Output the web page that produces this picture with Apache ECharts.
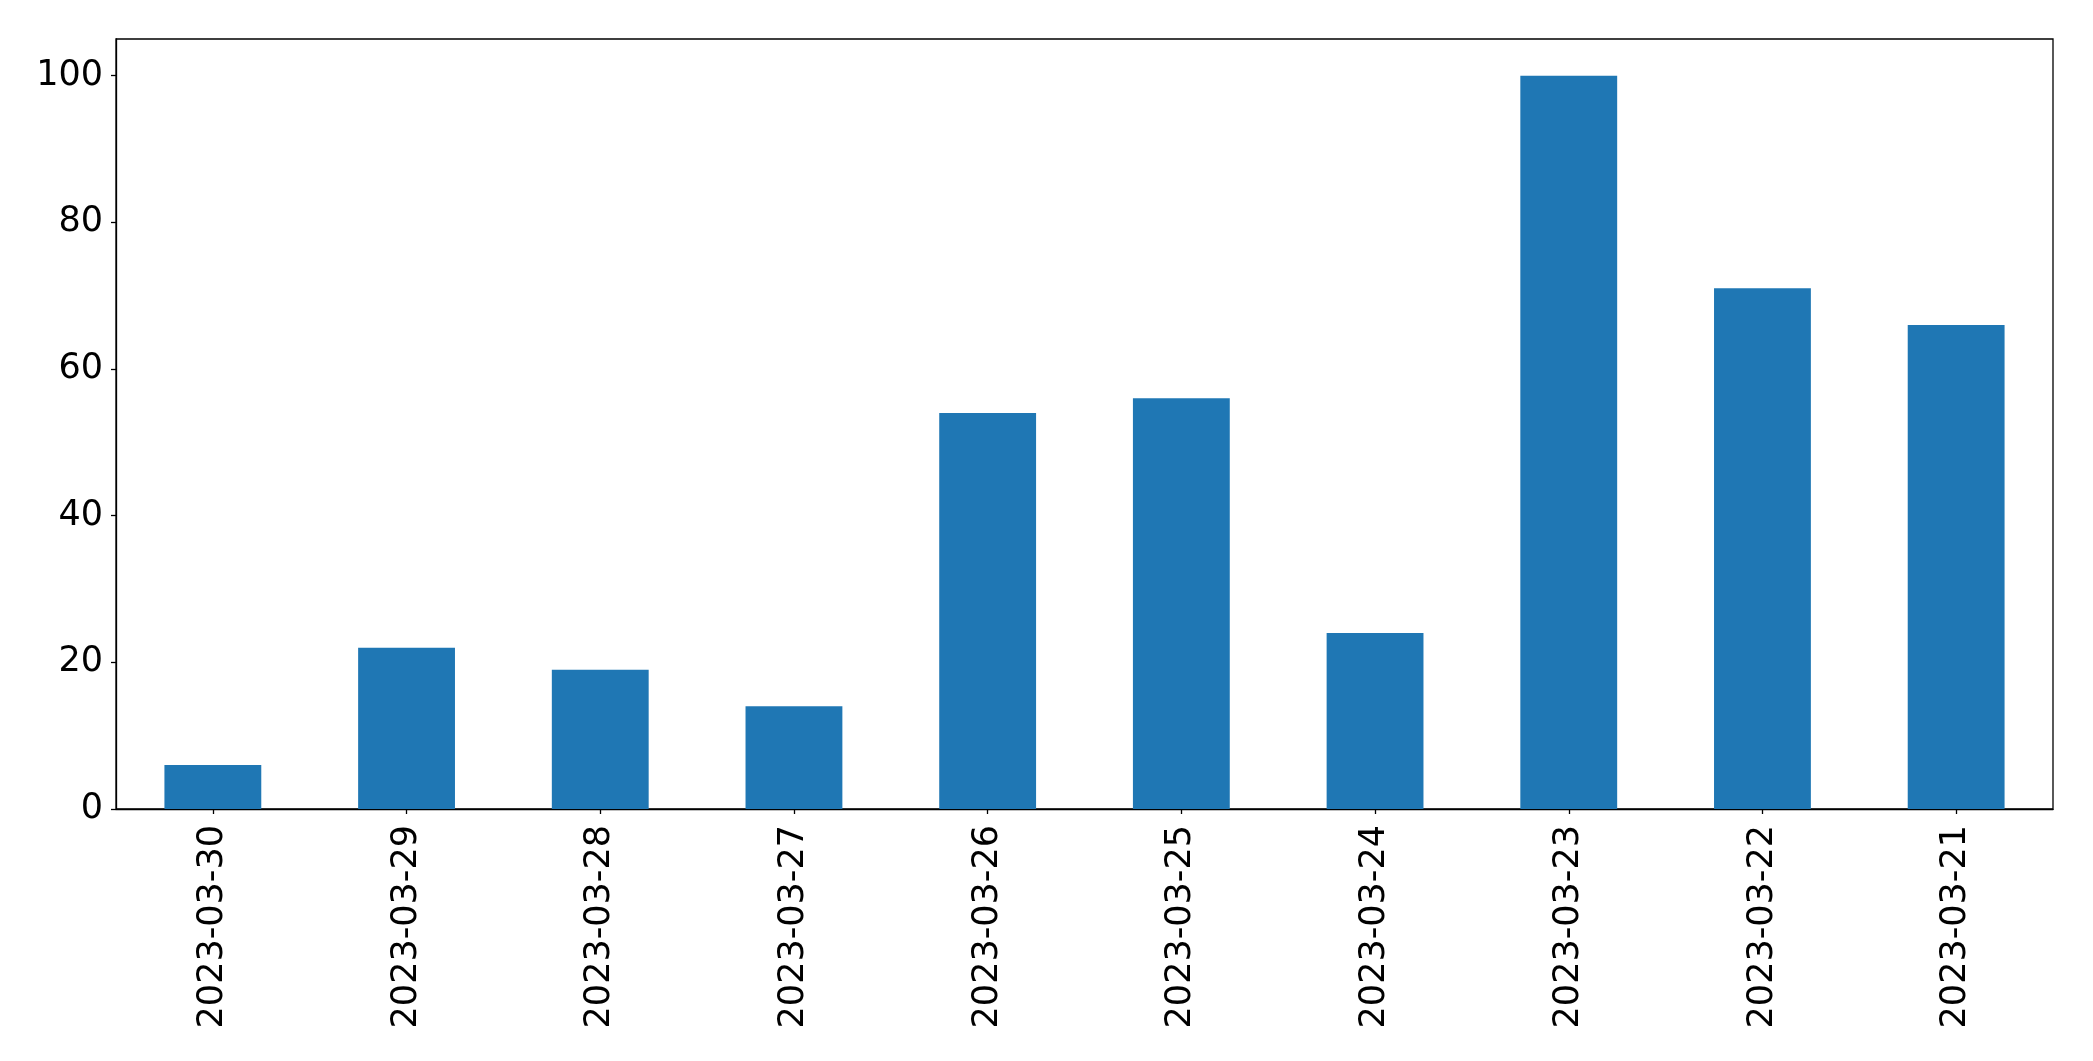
<!DOCTYPE html>
<html>
<head>
<meta charset="utf-8">
<script src="https://cdn.jsdelivr.net/npm/echarts@6/dist/echarts.min.js"></script>
<style>
html,body{margin:0;padding:0;background:#fff;}
#chart{width:2093px;height:1061px;}
</style>
</head>
<body>
<div id="chart"></div>
<script>
const categories = ["2023-03-30","2023-03-29","2023-03-28","2023-03-27","2023-03-26","2023-03-25","2023-03-24","2023-03-23","2023-03-22","2023-03-21"];
const values = [6, 22, 19, 14, 54, 56, 24, 100, 71, 66];
const yTicks = [0, 20, 40, 60, 80, 100];

const chart = echarts.init(document.getElementById('chart'), null, {renderer: 'canvas'});
chart.setOption({
  animation: false,
  grid: {
    left: 116, top: 39, right: 40, bottom: 252,
    show: true, borderColor: '#000', borderWidth: 1.3, backgroundColor: 'transparent',
    containLabel: false
  },
  xAxis: {
    type: 'category',
    data: categories,
    boundaryGap: true,
    axisLine: {show: true, lineStyle: {color: '#000', width: 1.3}},
    axisTick: {show: true, alignWithLabel: true, length: 5, lineStyle: {color: '#000', width: 1.3}},
    axisLabel: {
      rotate: 90, interval: 0, margin: 16,
      fontFamily: 'DejaVu Sans', fontSize: 35, color: '#000'
    },
    splitLine: {show: false}
  },
  yAxis: {
    type: 'value',
    min: 0, max: 105, interval: 20,
    axisLine: {show: true, lineStyle: {color: '#000', width: 1.3}},
    axisTick: {show: true, length: 5, customValues: yTicks, lineStyle: {color: '#000', width: 1.3}},
    axisLabel: {
      customValues: yTicks, margin: 13,
      fontFamily: 'DejaVu Sans', fontSize: 35, color: '#000'
    },
    splitLine: {show: false}
  },
  series: [{
    type: 'bar',
    data: values,
    barWidth: '50%',
    itemStyle: {color: '#1f77b4'}
  }]
});
</script>
</body>
</html>
